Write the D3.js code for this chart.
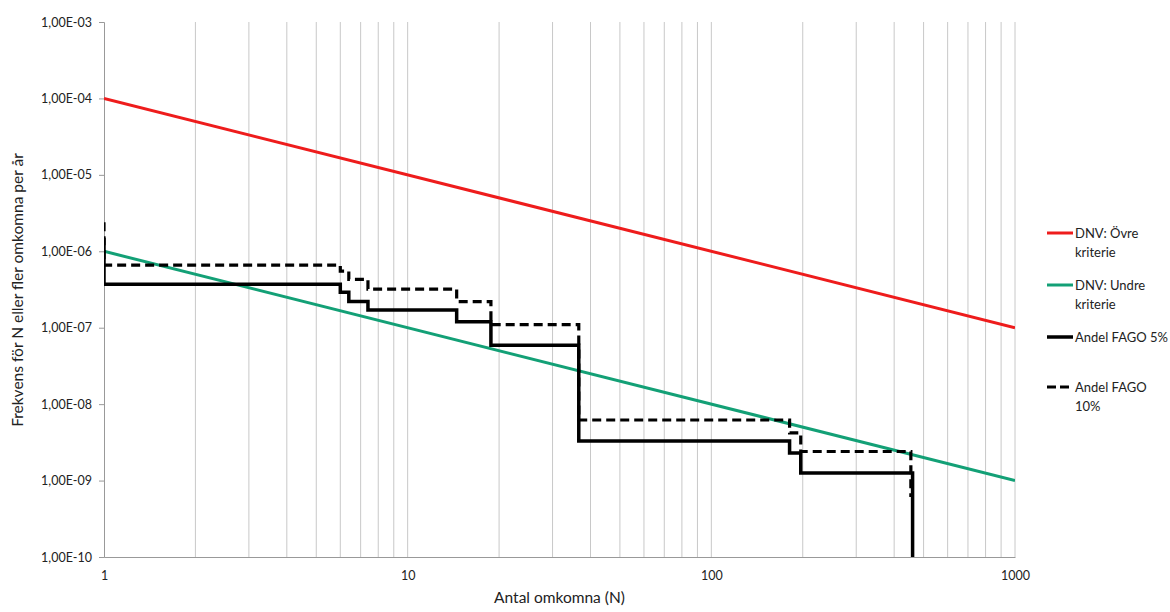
<!DOCTYPE html>
<html><head><meta charset="utf-8">
<script src="https://cdn.jsdelivr.net/npm/d3@7"></script>
<style>body{margin:0;background:#fff}svg{display:block;font-family:Lato,"Open Sans",sans-serif}</style>
</head><body><svg id="c" width="1170" height="612"></svg>
<script>
const xTicks = [1, 10, 100, 1000];
const yTicks = [1e-3, 1e-4, 1e-5, 1e-6, 1e-7, 1e-8, 1e-9, 1e-10];
const criteriaN = [1, 1000];
const upperF = [1e-4, 1e-7];
const lowerF = [1e-6, 1e-9];
const fago5N = [1, 1, 6, 6.4, 7.4, 14.5, 18.8, 36.6, 181, 197, 460];
const fago5F = [1.5e-6, 3.7e-7, 2.9e-7, 2.2e-7, 1.7e-7, 1.2e-7, 5.9e-8, 3.3e-9, 2.3e-9, 1.26e-9, 1e-10];
const fago10N = [1, 1, 6, 6.4, 7.4, 14.5, 18.8, 36.6, 181, 197, 454];
const fago10F = [2.4e-6, 6.6e-7, 5.5e-7, 4.3e-7, 3.2e-7, 2.2e-7, 1.1e-7, 6.2e-9, 4.2e-9, 2.4e-9, 6.1e-10];
const seriesNames = ["DNV: Övre kriterie", "DNV: Undre kriterie", "Andel FAGO 5%", "Andel FAGO 10%"];

const svg = d3.select("#c");
const L = 104, R = 1015, T = 22, B = 557;
const x = d3.scaleLog().domain([1, 1000]).range([L, R]);
const y = d3.scaleLog().domain([1e-10, 1e-3]).range([B, T]);

// vertical gridlines
const grid = [];
for (let d = 1; d < 1000; d *= 10) for (let k = 2; k <= 10; k++) grid.push(d * k);
svg.append("g").selectAll("line").data(grid).join("line")
  .attr("x1", d => x(d)).attr("x2", d => x(d)).attr("y1", T).attr("y2", B)
  .attr("stroke", "#c8c8c8").attr("stroke-width", 1);

// axes
const gy = svg.append("g").attr("transform", `translate(${L},0)`)
  .call(d3.axisLeft(y).tickValues(yTicks).tickSize(5).tickPadding(7)
    .tickFormat(d => { const e = Math.round(Math.log10(d)); return "1,00E-" + String(-e).padStart(2, "0"); }));
gy.select(".domain").attr("stroke", "#999");
gy.selectAll(".tick line").attr("stroke", "#999");
gy.selectAll("text").attr("font-size", 12.5).attr("fill", "#222").attr("font-family", "Lato,sans-serif");

const gx = svg.append("g").attr("transform", `translate(0,${B})`)
  .call(d3.axisBottom(x).tickValues(xTicks).tickSize(0).tickPadding(14).tickFormat(d3.format("d")));
gx.select(".domain").attr("stroke", "#999");
gx.selectAll("text").attr("font-size", 12.5).attr("fill", "#222").attr("font-family", "Lato,sans-serif");

svg.append("text").attr("x", (L + R) / 2).attr("y", 603).attr("text-anchor", "middle")
  .attr("font-size", 15.5).attr("fill", "#222").text("Antal omkomna (N)");
svg.append("text").attr("transform", "translate(23,290) rotate(-90)").attr("text-anchor", "middle")
  .attr("font-size", 15.5).attr("fill", "#222").text("Frekvens för N eller fler omkomna per år");

const line = d3.line().x(d => x(d[0])).y(d => y(d[1]));
const stepLine = d3.line().x(d => x(d[0])).y(d => y(d[1])).curve(d3.curveStepAfter);
const clip = svg.append("clipPath").attr("id", "pc").append("rect")
  .attr("x", L).attr("y", T).attr("width", R - L).attr("height", B - T);
const pg = svg.append("g").attr("clip-path", "url(#pc)");

pg.append("path").attr("d", line(d3.zip(criteriaN, upperF))).attr("fill", "none").attr("stroke", "#ee1c1c").attr("stroke-width", 3);
pg.append("path").attr("d", line(d3.zip(criteriaN, lowerF))).attr("fill", "none").attr("stroke", "#13a076").attr("stroke-width", 3);
pg.append("path").attr("d", stepLine(d3.zip(fago10N, fago10F))).attr("fill", "none").attr("stroke", "#000").attr("stroke-width", 3.2).attr("stroke-dasharray", "9,5");
pg.append("path").attr("d", stepLine(d3.zip(fago5N, fago5F))).attr("fill", "none").attr("stroke", "#000").attr("stroke-width", 3.5);

// legend
const leg = [
  {name: seriesNames[0], lines: ["DNV: Övre", "kriterie"], color: "#ee1c1c", dash: null, y: 233, w: 3},
  {name: seriesNames[1], lines: ["DNV: Undre", "kriterie"], color: "#13a076", dash: null, y: 285, w: 3},
  {name: seriesNames[2], lines: ["Andel FAGO 5%"], color: "#000", dash: null, y: 337, w: 3.5},
  {name: seriesNames[3], lines: ["Andel FAGO", "10%"], color: "#000", dash: "9,4", y: 387, w: 3.2}
];
const lg = svg.append("g").selectAll("g").data(leg).join("g");
lg.append("line").attr("x1", 1047).attr("x2", 1073).attr("y1", d => d.y).attr("y2", d => d.y)
  .attr("stroke", d => d.color).attr("stroke-width", d => d.w).attr("stroke-dasharray", d => d.dash);
lg.each(function(d) {
  const t = d3.select(this).append("text").attr("x", 1075).attr("y", d.y + 4.5).attr("font-size", 13).attr("fill", "#222");
  d.lines.forEach((s, i) => t.append("tspan").attr("x", 1075).attr("dy", i ? 19 : 0).text(s));
});
</script></body></html>
